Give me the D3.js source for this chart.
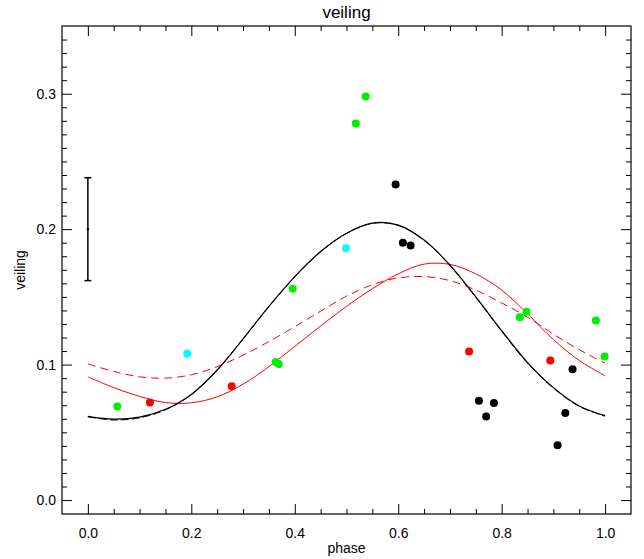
<!DOCTYPE html>
<html><head><meta charset="utf-8">
<script src="https://cdn.jsdelivr.net/npm/d3@7"></script>
<style>body{margin:0;background:#fff}svg{display:block}text{font-family:"Liberation Sans",Arial,sans-serif;fill:#000}</style>
</head><body>
<script>
// ---- data ----
const phaseGrid = [0.00,0.05,0.10,0.15,0.20,0.25,0.30,0.35,0.40,0.45,0.50,0.55,0.60,0.65,0.70,0.75,0.80,0.85,0.90,0.95,1.00];
const blackSolid = [0.0618,0.0597,0.0612,0.0670,0.0780,0.0960,0.1190,0.1430,0.1650,0.1835,0.1970,0.2045,0.2030,0.1920,0.1735,0.1500,0.1250,0.1015,0.0830,0.0695,0.0623];
const blackDashed = [0.0614,0.0591,0.0607,0.0666,0.0777,0.0958,0.1188,0.1428,0.1648,0.1833,0.1968,0.2043,0.2028,0.1917,0.1731,0.1496,0.1246,0.1011,0.0826,0.0691,0.0619];
const redSolid = [0.0910,0.0830,0.0765,0.0720,0.0718,0.0762,0.0855,0.0985,0.1135,0.1285,0.1430,0.1560,0.1670,0.1742,0.1740,0.1670,0.1550,0.1375,0.1185,0.1030,0.0917];
const redDashed = [0.1005,0.0950,0.0910,0.0900,0.0925,0.0985,0.1070,0.1170,0.1280,0.1395,0.1505,0.1590,0.1640,0.1650,0.1620,0.1550,0.1455,0.1350,0.1225,0.1110,0.1010];

const greenPhase = [0.057,0.363,0.369,0.396,0.518,0.537,0.835,0.848,0.982,0.999];
const greenVeil  = [0.069,0.102,0.1005,0.156,0.278,0.298,0.135,0.139,0.1325,0.106];
const redPhase = [0.120,0.278,0.737,0.894];
const redVeil  = [0.072,0.084,0.1096,0.103];
const cyanPhase = [0.192,0.499];
const cyanVeil  = [0.108,0.186];
const blackPhase = [0.595,0.609,0.624,0.756,0.770,0.785,0.908,0.923,0.937];
const blackVeil  = [0.233,0.190,0.188,0.0734,0.0616,0.0717,0.0404,0.0643,0.0966];

const errPhase = 0.0, errVal = 0.200, errHalf = 0.038;

const xTicks = [0.0,0.2,0.4,0.6,0.8,1.0];
const xTickLabels = ["0.0","0.2","0.4","0.6","0.8","1.0"];
const yTicks = [0.0,0.1,0.2,0.3];
const yTickLabels = ["0.0","0.1","0.2","0.3"];

// ---- layout ----
const W = 644, H = 559;
const L = 62, R = 631, T = 26, B = 514;
const x = d3.scaleLinear().domain([-0.05,1.05]).range([L,R]);
const y = d3.scaleLinear().domain([-0.0103,0.35]).range([B,T]);

const svg = d3.select("body").append("svg").attr("width",W).attr("height",H);

// frame
svg.append("rect").attr("x",L).attr("y",T).attr("width",R-L).attr("height",B-T)
  .attr("fill","none").attr("stroke","#000").attr("stroke-width",1.2);

const xMinor = d3.range(0,21).map(i=>i*0.05).filter(v=>xTicks.every(t=>Math.abs(t-v)>1e-6));
const yMinor = d3.range(0,35).map(i=>i*0.01).filter(v=>yTicks.every(t=>Math.abs(t-v)>1e-6));

function axisG(axis, tx, ty){ const g = svg.append("g").attr("transform",`translate(${tx},${ty})`).call(axis); g.select(".domain").remove(); g.selectAll("line").attr("stroke","#000"); return g; }

// bottom
axisG(d3.axisBottom(x).tickValues(xTicks).tickSize(-10).tickPadding(14).tickFormat((d,i)=>xTickLabels[i]),0,B)
  .selectAll("text").style("font-size","14px");
axisG(d3.axisBottom(x).tickValues(xMinor).tickSize(-5).tickFormat(""),0,B);
// top
axisG(d3.axisTop(x).tickValues(xTicks).tickSize(-10).tickFormat(""),0,T);
axisG(d3.axisTop(x).tickValues(xMinor).tickSize(-5).tickFormat(""),0,T);
// left
axisG(d3.axisLeft(y).tickValues(yTicks).tickSize(-10).tickPadding(6).tickFormat((d,i)=>yTickLabels[i]),L,0)
  .selectAll("text").style("font-size","14px");
axisG(d3.axisLeft(y).tickValues(yMinor).tickSize(-5).tickFormat(""),L,0);
// right
axisG(d3.axisRight(y).tickValues(yTicks).tickSize(-10).tickFormat(""),R,0);
axisG(d3.axisRight(y).tickValues(yMinor).tickSize(-5).tickFormat(""),R,0);

// titles
svg.append("text").attr("x",(L+R)/2).attr("y",18).attr("text-anchor","middle").style("font-size","17px").text("veiling");
svg.append("text").attr("x",(L+R)/2).attr("y",553).attr("text-anchor","middle").style("font-size","14px").text("phase");
svg.append("text").attr("transform",`translate(25,${(T+B)/2}) rotate(-90)`).attr("text-anchor","middle").style("font-size","14px").text("veiling");

// curves
const line = d3.line().x((d,i)=>x(phaseGrid[i])).y(d=>y(d)).curve(d3.curveCatmullRom.alpha(0.5));
const curves = [
  {v:redDashed, c:"#ff0000", w:1, dash:"8,5"},
  {v:redSolid, c:"#ff0000", w:1, dash:null},
  {v:blackDashed, c:"#000", w:1, dash:"8,3"},
  {v:blackSolid, c:"#000", w:1.2, dash:null}
];
curves.forEach(s=>{
  svg.append("path").datum(s.v).attr("d",line).attr("fill","none").attr("stroke",s.c)
    .attr("stroke-width",s.w).attr("stroke-dasharray",s.dash);
});

// error bar
const eb = svg.append("g").attr("stroke","#000").attr("stroke-width",1.5);
eb.append("line").attr("x1",x(errPhase)).attr("x2",x(errPhase)).attr("y1",y(errVal-errHalf)).attr("y2",y(errVal+errHalf));
[errVal-errHalf, errVal+errHalf].forEach(v=>eb.append("line").attr("x1",x(errPhase)-3.5).attr("x2",x(errPhase)+3.5).attr("y1",y(v)).attr("y2",y(v)));
svg.append("circle").attr("cx",x(errPhase)).attr("cy",y(errVal)).attr("r",1.2).attr("fill","#000");

// points
function pts(ph, vv, col){
  svg.append("g").selectAll("circle").data(ph).join("circle")
    .attr("cx",d=>x(d)).attr("cy",(d,i)=>y(vv[i])).attr("r",4).attr("fill",col);
}
pts(greenPhase, greenVeil, "#00ee00");
pts(redPhase, redVeil, "#ff0000");
pts(cyanPhase, cyanVeil, "#00ffff");
pts(blackPhase, blackVeil, "#000000");
</script>
</body></html>
